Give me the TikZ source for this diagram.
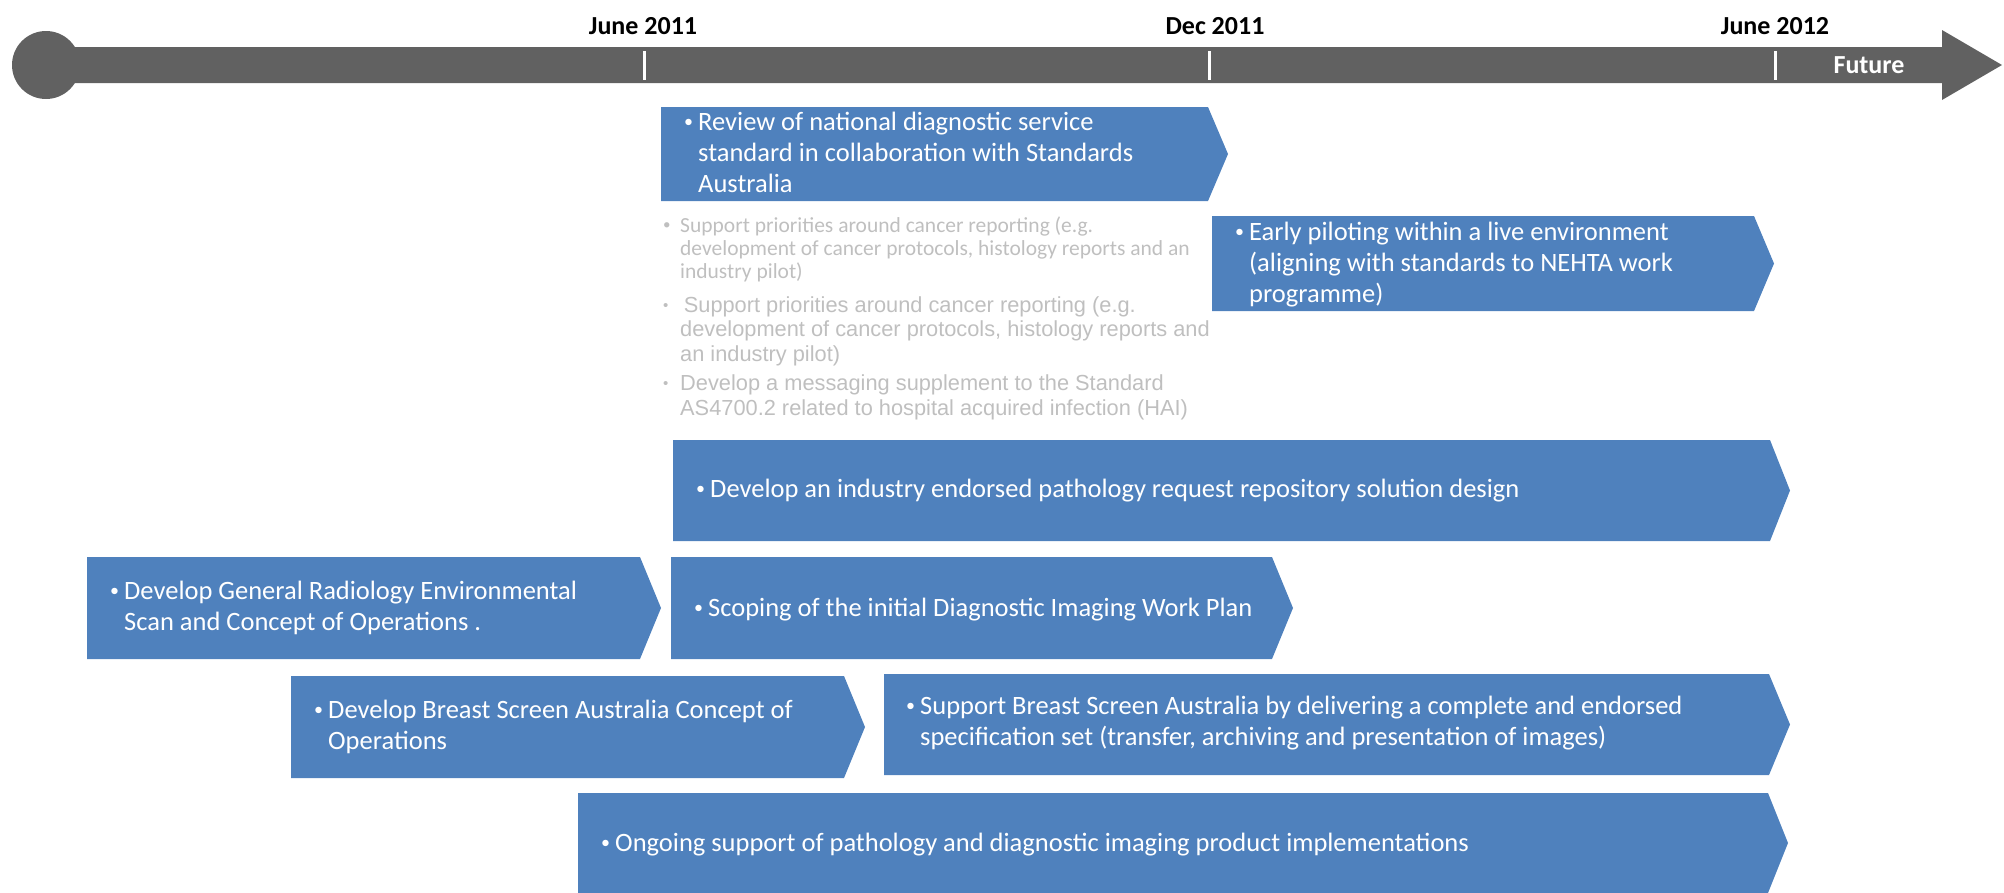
\documentclass[tikz,border=0pt]{standalone}
\usepackage{fontspec}
\setmainfont{Carlito}
\newfontfamily\arialfont{Liberation Sans}
\definecolor{boxblue}{HTML}{4F81BD}
\definecolor{linegray}{HTML}{616161}
\definecolor{fadegray}{HTML}{BFBFBF}
\newcommand\chevfill[5]{%
  \fill[boxblue] (#1,#2) -- (#3,#2) -- (#4,{(#2+#5)/2}) -- (#3,#5) -- (#1,#5) -- cycle;}
\newcommand\bu{\raisebox{3pt}{\fontsize{18}{18}\selectfont •}}
\newcommand\gbu{\raisebox{2.5pt}{\fontsize{15}{15}\selectfont •}}
\newcommand\btab[1]{\begin{tabular}{@{}p{14pt}@{}l@{}}#1\end{tabular}}
\newcommand\gtab[1]{\begin{tabular}{@{}p{17pt}@{}l@{}}#1\end{tabular}}
\tikzset{
  boxtext/.style={anchor=west, inner sep=0pt, text=white, font=\fontsize{26.5}{31}\selectfont},
  fadetext/.style={anchor=west, inner sep=0pt, text=fadegray, font=\fontsize{21.5}{23}\selectfont},
  fadearial/.style={anchor=west, inner sep=0pt, text=fadegray, font=\arialfont\fontsize{21.8}{24.3}\selectfont},
  datelbl/.style={inner sep=0pt, font=\bfseries\fontsize{26}{30}\selectfont},
  ticklin/.style={draw=white, line width=3pt}
}
\begin{document}
\begin{tikzpicture}[x=1pt,y=-1pt]
\useasboundingbox (0,0) rectangle (2004,892);
% timeline
\fill[linegray] (46,65) circle (34);
\fill[linegray] (46,47) -- (1942,47) -- (1942,30) -- (2002,65) -- (1942,100) -- (1942,83) -- (46,83) -- cycle;
\draw[ticklin] (644,51) -- (644,80);
\draw[ticklin] (1209,51) -- (1209,80);
\draw[ticklin] (1775,51) -- (1775,80);
\node[datelbl] (d1) at (643,26) {June 2011};
\node[datelbl] (d2) at (1215,26) {Dec 2011};
\node[datelbl] (d3) at (1775,26) {June 2012};
\node[datelbl, text=white] (fut) at (1869,65) {Future};
% boxes
\chevfill{661}{107}{1208}{1228}{201}
\node[boxtext] (b1) at (684,155) {\btab{\bu&Review of national diagnostic service\\&standard in collaboration with Standards\\&Australia}};
\chevfill{1212}{216}{1754}{1774}{311}
\node[boxtext] (b2) at (1235,265) {\btab{\bu&Early piloting within a live environment\\&(aligning with standards to NEHTA work\\&programme)}};
\chevfill{673}{440}{1770}{1790}{541}
\node[boxtext] (b3) at (696,491) {\btab{\bu&Develop an industry endorsed pathology request repository solution design}};
\chevfill{87}{557}{640}{661}{659}
\node[boxtext] (b4) at (110,609) {\btab{\bu&Develop General Radiology Environmental\\&Scan and Concept of Operations .}};
\chevfill{671}{557}{1272}{1293}{659}
\node[boxtext] (b5) at (694,610) {\btab{\bu&Scoping of the initial Diagnostic Imaging Work Plan}};
\chevfill{291}{676}{844}{865}{778}
\node[boxtext] (b6) at (314,728) {\btab{\bu&Develop Breast Screen Australia Concept of\\&Operations}};
\chevfill{884}{674}{1769}{1790}{775}
\node[boxtext] (b7) at (906,724) {\btab{\bu&Support Breast Screen Australia by delivering a complete and endorsed\\&specification set (transfer, archiving and presentation of images)}};
\chevfill{578}{793}{1768}{1788}{893}
\node[boxtext] (b8) at (601,845) {\btab{\bu&Ongoing support of pathology and diagnostic imaging product implementations}};
% faded text
\node[fadetext] (g1) at (663,250.5) {\gtab{\gbu&Support priorities around cancer reporting (e.g.\\&development of cancer protocols, histology reports and an\\&industry pilot)}};
\node[fadearial] (g2) at (663,332) {\gtab{\gbu&\,Support priorities around cancer reporting (e.g.\\&development of cancer protocols, histology reports and\\&an industry pilot)}};
\node[fadearial] (g3) at (663,398) {\gtab{\gbu&Develop a messaging supplement to the Standard\\&AS4700.2 related to hospital acquired infection (HAI)}};
\end{tikzpicture}
\end{document}
